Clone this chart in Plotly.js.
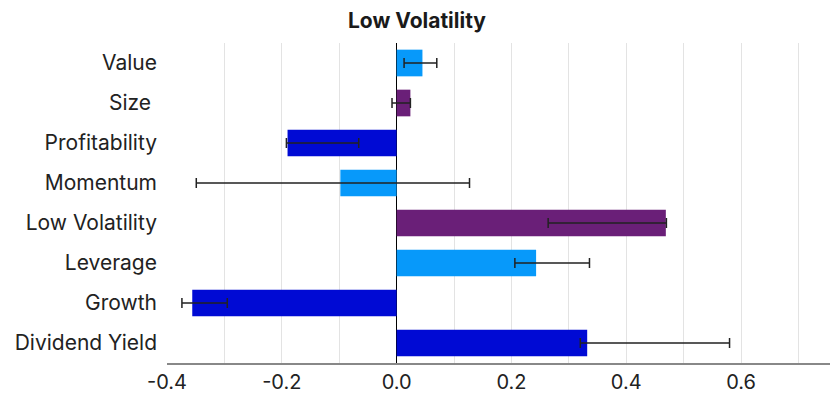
<!DOCTYPE html>
<html>
<head>
<meta charset="utf-8">
<script src="https://cdn.plot.ly/plotly-3.0.1.min.js"></script>
<style>html,body{margin:0;padding:0;background:#fff;}#chart{width:834px;height:394px;}</style>
</head>
<body>
<div id="chart"></div>
<script>
const factors = ['Value', 'Size\u00a0', 'Profitability', 'Momentum', 'Low Volatility', 'Leverage', 'Growth', 'Dividend Yield'];
const exposure = [0.045, 0.024, -0.190, -0.098, 0.469, 0.243, -0.356, 0.332];
const lowerBound = [0.013, -0.008, -0.192, -0.349, 0.264, 0.206, -0.374, 0.320];
const upperBound = [0.070, 0.023, -0.066, 0.127, 0.470, 0.336, -0.295, 0.580];
const barColors = ['#0799FA', '#6A1F78', '#000AD4', '#0799FA', '#6A1F78', '#0799FA', '#000AD4', '#000AD4'];
const tickValues = [-0.4, -0.2, 0.0, 0.2, 0.4, 0.6];
const tickLabels = ['-0.4', '-0.2', '0.0', '0.2', '0.4', '0.6'];

const errPlus = upperBound.map((u, i) => Math.max(0, u - exposure[i]));
const errMinus = lowerBound.map((l, i) => Math.max(0, exposure[i] - l));

const trace = {
  type: 'bar',
  orientation: 'h',
  y: factors,
  x: exposure,
  width: 0.667,
  marker: {color: barColors},
  error_x: {
    type: 'data', symmetric: false,
    array: errPlus, arrayminus: errMinus,
    color: '#222', thickness: 1.5, width: 5
  },
  hoverinfo: 'x+y'
};

const layout = {
  width: 834, height: 394,
  margin: {l: 167, r: 4, t: 43, b: 31},
  paper_bgcolor: '#fff', plot_bgcolor: '#fff',
  font: {family: 'Inter, "Open Sans", sans-serif', color: '#222', size: 19},
  title: {text: '<b>Low Volatility</b>', font: {size: 21, color: '#1a1a1a', family: 'Inter, sans-serif'},
          xref: 'container', x: 0.5, xanchor: 'center', yref: 'container', y: 0.947, yanchor: 'middle'},
  showlegend: false,
  bargap: 0.333,
  xaxis: {
    range: [-0.4, 0.755],
    tickvals: tickValues, ticktext: tickLabels,
    showgrid: true, gridcolor: '#e3e3e3', gridwidth: 1,
    minor: {dtick: 0.1, showgrid: true, gridcolor: '#e3e3e3', gridwidth: 1},
    zeroline: true, zerolinecolor: '#000', zerolinewidth: 1.5,
    showline: true, linecolor: '#888', linewidth: 1.5,
    ticks: '', tickfont: {size: 20, color: '#222'}
  },
  yaxis: {
    range: [7.5, -0.5], type: 'category',
    showgrid: false, zeroline: false, showline: false,
    ticks: '', ticklabelstandoff: 9,
    tickfont: {size: 21, color: '#222'}
  }
};

Plotly.newPlot('chart', [trace], layout, {displayModeBar: false, staticPlot: true});
</script>
</body>
</html>
